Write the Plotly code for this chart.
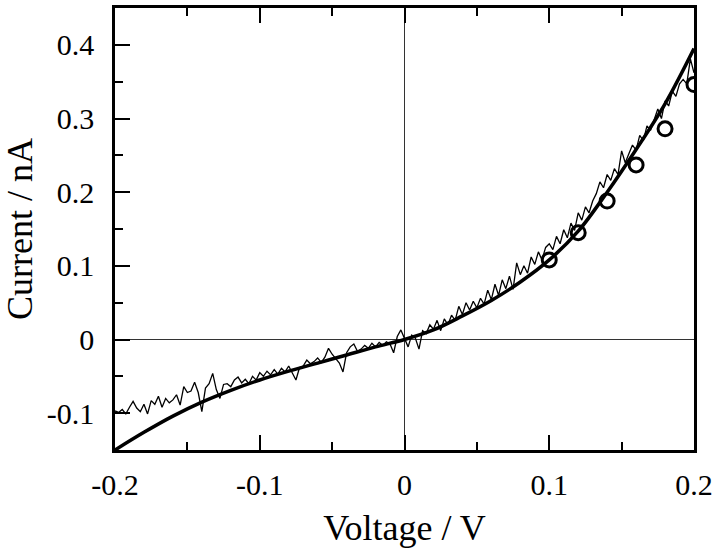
import plotly.graph_objects as go

# fitted curve (thick line)
fit_v = [-0.20, -0.18, -0.16, -0.14, -0.12, -0.10, -0.08, -0.06, -0.04, -0.02, 0.00,
         0.02, 0.04, 0.06, 0.08, 0.10, 0.12, 0.14, 0.16, 0.18, 0.20]
fit_i = [-0.150, -0.126, -0.104, -0.085, -0.069, -0.055, -0.043, -0.032, -0.021, -0.010, 0.000,
         0.013, 0.032, 0.053, 0.078, 0.108, 0.147, 0.200, 0.258, 0.320, 0.395]

# open circles
pts_v = [0.10, 0.12, 0.14, 0.16, 0.18, 0.20]
pts_i = [0.108, 0.145, 0.188, 0.237, 0.286, 0.346]

# measured sweep (thin noisy line)
meas_v = [
    -0.2000, -0.1975, -0.1950, -0.1925, -0.1900, -0.1875, -0.1850, -0.1825, -0.1800, -0.1775,
    -0.1750, -0.1725, -0.1700, -0.1675, -0.1650, -0.1625, -0.1600, -0.1575, -0.1550, -0.1525,
    -0.1500, -0.1475, -0.1450, -0.1425, -0.1400, -0.1375, -0.1350, -0.1325, -0.1300, -0.1275,
    -0.1250, -0.1225, -0.1200, -0.1175, -0.1150, -0.1125, -0.1100, -0.1075, -0.1050, -0.1025,
    -0.1000, -0.0975, -0.0950, -0.0925, -0.0900, -0.0875, -0.0850, -0.0825, -0.0800, -0.0775,
    -0.0750, -0.0725, -0.0700, -0.0675, -0.0650, -0.0625, -0.0600, -0.0575, -0.0550, -0.0525,
    -0.0500, -0.0475, -0.0450, -0.0425, -0.0400, -0.0375, -0.0350, -0.0325, -0.0300, -0.0275,
    -0.0250, -0.0225, -0.0200, -0.0175, -0.0150, -0.0125, -0.0100, -0.0075, -0.0050, -0.0025,
    0.0000, 0.0025, 0.0050, 0.0075, 0.0100, 0.0125, 0.0150, 0.0175, 0.0200, 0.0225,
    0.0250, 0.0275, 0.0300, 0.0325, 0.0350, 0.0375, 0.0400, 0.0425, 0.0450, 0.0475,
    0.0500, 0.0525, 0.0550, 0.0575, 0.0600, 0.0625, 0.0650, 0.0675, 0.0700, 0.0725,
    0.0750, 0.0775, 0.0800, 0.0825, 0.0850, 0.0875, 0.0900, 0.0925, 0.0950, 0.0975,
    0.1000, 0.1025, 0.1050, 0.1075, 0.1100, 0.1125, 0.1150, 0.1175, 0.1200, 0.1225,
    0.1250, 0.1275, 0.1300, 0.1325, 0.1350, 0.1375, 0.1400, 0.1425, 0.1450, 0.1475,
    0.1500, 0.1525, 0.1550, 0.1575, 0.1600, 0.1625, 0.1650, 0.1675, 0.1700, 0.1725,
    0.1750, 0.1775, 0.1800, 0.1825, 0.1850, 0.1875, 0.1900, 0.1925, 0.1950, 0.1975,
    0.2000,
]
meas_i = [
    -0.097, -0.099, -0.095, -0.101, -0.092, -0.084, -0.093, -0.098, -0.088, -0.101,
    -0.083, -0.088, -0.077, -0.092, -0.080, -0.086, -0.082, -0.075, -0.089, -0.064,
    -0.072, -0.070, -0.058, -0.072, -0.098, -0.066, -0.060, -0.046, -0.068, -0.080,
    -0.061, -0.060, -0.064, -0.055, -0.051, -0.059, -0.054, -0.060, -0.050, -0.055,
    -0.045, -0.050, -0.043, -0.048, -0.041, -0.047, -0.039, -0.044, -0.036, -0.045,
    -0.055, -0.038, -0.036, -0.028, -0.033, -0.030, -0.025, -0.031, -0.024, -0.012,
    -0.020, -0.026, -0.032, -0.044, -0.018, -0.010, -0.006, -0.016, -0.013, -0.008,
    -0.012, -0.005, -0.010, -0.004, -0.008, -0.003, -0.006, -0.018, 0.004, 0.013,
    0.001, -0.010, 0.006, 0.002, -0.013, 0.012, 0.008, 0.020, 0.014, 0.026,
    0.012, 0.028, 0.020, 0.033, 0.026, 0.045, 0.034, 0.050, 0.040, 0.052,
    0.043, 0.056, 0.048, 0.067, 0.054, 0.075, 0.060, 0.081, 0.069, 0.086,
    0.068, 0.104, 0.088, 0.100, 0.090, 0.112, 0.102, 0.119, 0.108, 0.125,
    0.130, 0.122, 0.140, 0.130, 0.149, 0.138, 0.158, 0.148, 0.172, 0.162,
    0.180, 0.172, 0.188, 0.198, 0.214, 0.206, 0.224, 0.216, 0.232, 0.224,
    0.256, 0.240, 0.252, 0.264, 0.257, 0.277, 0.270, 0.290, 0.284, 0.300,
    0.313, 0.300, 0.324, 0.317, 0.337, 0.330, 0.347, 0.353, 0.347, 0.381,
    0.362,
]

x_ticks = [-0.2, -0.1, 0, 0.1, 0.2]
x_labels = ['-0.2', '-0.1', '0', '0.1', '0.2']
y_ticks = [-0.1, 0, 0.1, 0.2, 0.3, 0.4]
y_labels = ['-0.1', '0', '0.1', '0.2', '0.3', '0.4']

FONT = 'Liberation Serif'

fig = go.Figure()
fig.add_trace(go.Scatter(x=meas_v, y=meas_i, mode='lines',
                         line=dict(color='black', width=1.3)))
fig.add_trace(go.Scatter(x=fit_v, y=fit_i, mode='lines', line_shape='spline',
                         line=dict(color='black', width=3.5)))
fig.add_trace(go.Scatter(x=pts_v, y=pts_i, mode='markers',
                         marker=dict(symbol='circle-open', size=14,
                                     color='black', line=dict(width=3))))

fig.update_layout(
    width=720, height=550,
    margin=dict(l=115, r=26, t=5, b=100),
    plot_bgcolor='white', paper_bgcolor='white',
    showlegend=False,
    font=dict(family=FONT, color='black'),
)
fig.update_xaxes(
    range=[-0.2, 0.2], tickvals=x_ticks, ticktext=x_labels,
    ticks='inside', ticklen=15, tickwidth=2, tickcolor='black',
    minor=dict(dtick=0.05, ticks='inside', ticklen=8, tickwidth=2, tickcolor='black'),
    showline=True, linecolor='black', linewidth=2.5, mirror='ticks',
    showgrid=False, zeroline=True, zerolinecolor='#333', zerolinewidth=1,
    tickfont=dict(size=30, family=FONT), ticklabelstandoff=6,
    title=dict(text='Voltage / V', font=dict(size=36, family=FONT), standoff=16),
)
fig.update_yaxes(
    range=[-0.15, 0.45], tickvals=y_ticks, ticktext=y_labels,
    ticks='inside', ticklen=15, tickwidth=2, tickcolor='black',
    minor=dict(dtick=0.05, ticks='inside', ticklen=8, tickwidth=2, tickcolor='black'),
    showline=True, linecolor='black', linewidth=2.5, mirror=True,
    showgrid=False, zeroline=True, zerolinecolor='#333', zerolinewidth=1,
    tickfont=dict(size=30, family=FONT), ticklabelstandoff=12,
    title=dict(text='Current / nA', font=dict(size=36, family=FONT), standoff=16),
)

# the page keeps the browser's default 8px body margin; drop it
fig.write_html("out.html", config={'displayModeBar': False},
               post_script="document.body.style.margin='0';")
